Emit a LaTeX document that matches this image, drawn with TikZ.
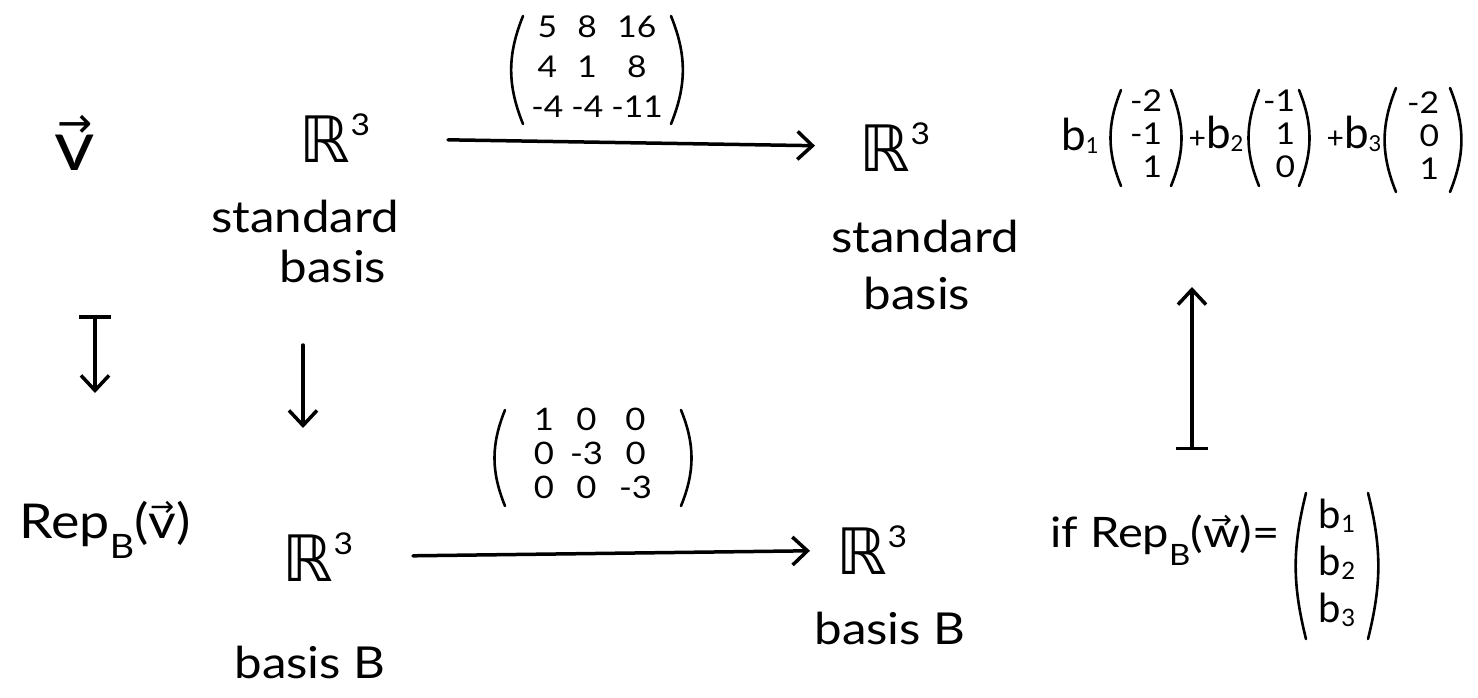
\documentclass[tikz,border=0pt]{standalone}
\usepackage{fontspec}
\setmainfont{Lato}[FakeStretch=1.12]
\newfontfamily\dejavu{DejaVu Sans}
\newfontfamily\narrowlato{Lato}
\usetikzlibrary{arrows.meta}
\makeatletter
% R^3 with a raised exponent
\newcommand{\Rthree}{{\dejavu ℝ}\raisebox{0.42em}{\fontsize{30}{30}\selectfont 3}}
% subscript: drop, size ratio, text
\newcommand{\subsc}[3]{\raisebox{-#1}{\@tempdima=#2\dimexpr\f@size pt\relax
  \fontsize{\strip@pt\@tempdima}{\strip@pt\@tempdima}\selectfont #3}}
% letter with a vector arrow above it
\newcommand{\vecbox}[1]{{\setbox0\hbox{#1}\@tempdima=0.6\dimexpr\f@size pt\relax
  \rlap{\raisebox{\dimexpr\ht0-0.04em\relax}{\makebox[\wd0]{\fontsize{\strip@pt\@tempdima}{\strip@pt\@tempdima}\dejavu →}}}\box0}}
% small plus sign between terms
\newcommand{\plus}{{\fontsize{30}{30}\selectfont +}}
\makeatother
% round brackets about a node centre: node, half width, half height, bend
\newcommand{\bracket}[4]{%
  \draw[paren] ([shift={(-#2,-#3)}]#1.center) to[bend right=#4] ([shift={(-#2,#3)}]#1.center);
  \draw[paren] ([shift={(#2,-#3)}]#1.center) to[bend left=#4] ([shift={(#2,#3)}]#1.center);}
\begin{document}
\begin{tikzpicture}[x=1pt,y=-1pt,
  every node/.style={inner sep=0pt, text=black},
  lbl/.style={font=\fontsize{44}{50}\selectfont},
  space/.style={font=\fontsize{64}{70}\selectfont},
  mat/.style={font=\fontsize{30}{40}\selectfont},
  bmat/.style={font=\fontsize{31}{34}\selectfont},
  colent/.style={font=\fontsize{30}{33}\selectfont},
  coef/.style={font=\narrowlato\fontsize{44}{44}\selectfont},
  paren/.style={line width=2.6pt, line cap=round},
  conn/.style={line width=3.5pt, line cap=round,
    -{Straight Barb[length=15pt,width=28pt,line width=3.5pt]}},
  mapsto/.style={line width=3.5pt, line cap=round,
    {Bar[width=32pt,line width=3.5pt]}-{Straight Barb[length=15pt,width=28pt,line width=3.5pt]}},
]
\useasboundingbox (0,0) rectangle (1478,698);

% vector spaces and their bases
\node[space] (R1)  at (335,138) {\Rthree};
\node[lbl]   (s1a) at (305,216) {standard};
\node[lbl]   (s1b) at (333,266) {basis};
\node[space] (R2)  at (895,147) {\Rthree};
\node[lbl]   (s2a) at (925,236) {standard};
\node[lbl]   (s2b) at (917,293) {basis};
\node[space] (R3)  at (318,557) {\Rthree};
\node[lbl]   (b1)  at (310,662) {basis B};
\node[space] (R4)  at (872,550) {\Rthree};
\node[lbl]   (b2)  at (890,628) {basis B};

% the vector and its representation
\node[font=\fontsize{70}{70}\selectfont] (v) at (75,143) {\vecbox{v}};
\node[font=\fontsize{48}{48}\selectfont] (rv) at (105,530) {Rep\subsc{0.42em}{0.7}{B}(\vecbox{v})};

% transformation matrices
\node[mat] (A) at (597,70) {\begin{tabular}{@{}c@{\hspace{8pt}}c@{\hspace{8pt}}c@{}}5 & 8 & 16\\ 4 & 1 & 8\\ -4 & -4 & -11\end{tabular}};
\bracket{A}{74}{54}{22}
\node[bmat] (D) at (593,458) {\begin{tabular}{@{}c@{\hspace{16pt}}c@{\hspace{16pt}}c@{}}1 & 0 & 0\\ 0 & -3 & 0\\ 0 & 0 & -3\end{tabular}};
\bracket{D}{88}{48}{22}

% change of basis back to standard coordinates
\node[coef]   (k1) at (1080,136) {b\subsc{0.06em}{0.5}{1}};
\node[colent] (c1) at (1146,138) {\begin{tabular}{@{}r@{}}-2\\ -1\\ 1\end{tabular}};
\bracket{c1}{25}{48}{22}
\node[coef]   (k2) at (1216,134) {\plus b\subsc{0.06em}{0.5}{2}};
\node[colent] (c2) at (1279,138) {\begin{tabular}{@{}r@{}}-1\\ 1\\ 0\end{tabular}};
\bracket{c2}{20}{48}{22}
\node[coef]   (k3) at (1354,134) {\plus b\subsc{0.06em}{0.5}{3}};
\node[colent] (c3) at (1423,140) {\begin{tabular}{@{}r@{}}-2\\ 0\\ 1\end{tabular}};
\bracket{c3}{27}{52}{22}

\node[font=\fontsize{42}{42}\selectfont, anchor=west] (rw) at (1050,540) {if Rep\subsc{0.42em}{0.7}{B}(\vecbox{w})=};
\node[font=\narrowlato\fontsize{40}{47}\selectfont] (bc) at (1337,566) {\begin{tabular}{@{}l@{}}b\subsc{0.1em}{0.6}{1}\\ b\subsc{0.1em}{0.6}{2}\\ b\subsc{0.1em}{0.6}{3}\end{tabular}};
\bracket{bc}{31}{73}{14}

% connectors
\coordinate (lx) at (95,0);
\coordinate (mx) at (303,0);
\coordinate (rx) at (1192,0);
\draw[conn] (R1.center) -- (R2.center) [shorten <=113pt, shorten >=80pt];
\draw[conn] (R3.center) -- (R4.center) [shorten <=95pt, shorten >=62pt];
\draw[mapsto] (lx |- v.center) -- (lx |- rv.center) [shorten <=172pt, shorten >=137pt];
\draw[conn] (mx |- s1b.center) -- (mx |- R3.center) [shorten <=79pt, shorten >=129pt];
\draw[mapsto] (rx |- bc.center) -- (rx |- k1.center) [shorten <=116pt, shorten >=151pt];
\end{tikzpicture}
\end{document}
